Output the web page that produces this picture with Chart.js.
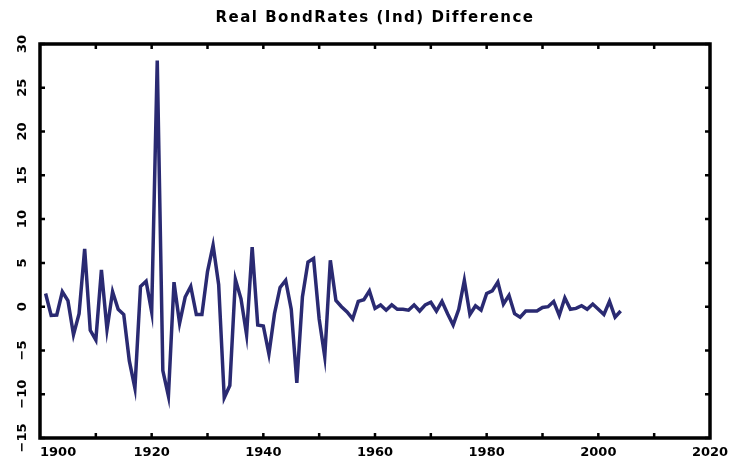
<!DOCTYPE html>
<html>
<head>
<meta charset="utf-8">
<title>Real BondRates (Ind) Difference</title>
<script src="https://cdn.jsdelivr.net/npm/chart.js@4.4.0/dist/chart.umd.min.js"></script>
<style>
  body { margin: 0; background: #fff; }
  #wrap { width: 734px; height: 463px; }
</style>
</head>
<body>
<div id="wrap"><canvas id="bondChart" width="734" height="463"></canvas></div>
<script>
// yearly values
const years = [
  1901, 1902, 1903, 1904, 1905, 1906, 1907, 1908, 1909, 1910,
  1911, 1912, 1913, 1914, 1915, 1916, 1917, 1918, 1919, 1920,
  1921, 1922, 1923, 1924, 1925, 1926, 1927, 1928, 1929, 1930,
  1931, 1932, 1933, 1934, 1935, 1936, 1937, 1938, 1939, 1940,
  1941, 1942, 1943, 1944, 1945, 1946, 1947, 1948, 1949, 1950,
  1951, 1952, 1953, 1954, 1955, 1956, 1957, 1958, 1959, 1960,
  1961, 1962, 1963, 1964, 1965, 1966, 1967, 1968, 1969, 1970,
  1971, 1972, 1973, 1974, 1975, 1976, 1977, 1978, 1979, 1980,
  1981, 1982, 1983, 1984, 1985, 1986, 1987, 1988, 1989, 1990,
  1991, 1992, 1993, 1994, 1995, 1996, 1997, 1998, 1999, 2000,
  2001, 2002, 2003, 2004
];
const rateDiff = [
  1.5, -1.0, -0.95, 1.7, 0.7, -3.2, -0.8, 6.6, -2.7, -3.8,
  4.2, -2.6, 1.7, -0.3, -0.9, -6.2, -9.3, 2.3, 2.9, -0.6,
  28.1, -7.3, -10.2, 2.8, -1.9, 1.1, 2.3, -0.9, -0.9, 4.0,
  7.0, 2.5, -10.4, -9.0, 3.1, 0.9, -3.2, 6.8, -2.1, -2.2,
  -5.4, -0.8, 2.2, 3.0, -0.3, -8.7, 1.1, 5.1, 5.5, -1.4,
  -5.7, 5.3, 0.7, 0.0, -0.6, -1.4, 0.6, 0.8, 1.8, -0.2,
  0.2, -0.4, 0.2, -0.3, -0.3, -0.4, 0.2, -0.5, 0.2, 0.5,
  -0.5, 0.6, -0.8, -2.1, -0.3, 3.0, -0.9, 0.1, -0.4, 1.5,
  1.8, 2.8, 0.3, 1.3, -0.8, -1.2, -0.5, -0.5, -0.5, -0.1,
  0.0, 0.6, -1.0, 1.0, -0.3, -0.2, 0.1, -0.3, 0.3, -0.3,
  -0.9, 0.6, -1.2, -0.5
];

const chartTitle = 'Real BondRates (Ind) Difference';
const xTickLabels = ['1900', '1920', '1940', '1960', '1980', '2000', '2020'];
const xMinorTicks = [1910, 1920, 1930, 1940, 1950, 1960, 1970, 1980, 1990, 2000, 2010];
const yTickLabels = ['\u221215', '\u221210', '\u22125', '0', '5', '10', '15', '20', '25', '30'];
const yTicks = [-15, -10, -5, 0, 5, 10, 15, 20, 25, 30];

const points = years.map((yr, i) => ({ x: yr, y: rateDiff[i] }));

// matlab-ish box frame, inward ticks, rotated y labels and the title
const boxAxes = {
  id: 'boxAxes',
  afterDraw(chart) {
    const ctx = chart.ctx;
    const a = chart.chartArea;
    const xs = chart.scales.x;
    const ys = chart.scales.y;
    ctx.save();
    ctx.strokeStyle = '#000';

    // ticks
    ctx.lineWidth = 2.5;
    ctx.beginPath();
    xMinorTicks.forEach(v => {
      const px = xs.getPixelForValue(v);
      ctx.moveTo(px, a.top); ctx.lineTo(px, a.top + 5);
      ctx.moveTo(px, a.bottom); ctx.lineTo(px, a.bottom - 5);
    });
    yTicks.forEach(v => {
      const py = ys.getPixelForValue(v);
      ctx.moveTo(a.left, py); ctx.lineTo(a.left + 5, py);
      ctx.moveTo(a.right, py); ctx.lineTo(a.right - 5, py);
    });
    ctx.stroke();

    // frame
    ctx.lineWidth = 3.5;
    ctx.strokeRect(a.left, a.top, a.right - a.left, a.bottom - a.top);

    ctx.fillStyle = '#000';
    ctx.textBaseline = 'middle';

    // title (wide letters like the original)
    ctx.font = 'bold 15px "DejaVu Sans"';
    ctx.letterSpacing = '1.5px';
    ctx.textAlign = 'center';
    ctx.fillText(chartTitle, (a.left + a.right) / 2, 18);
    ctx.letterSpacing = '0px';

    // x labels
    ctx.font = 'bold 13px "DejaVu Sans"';
    xTickLabels.forEach((lab, i) => {
      const px = xs.getPixelForValue(Number(lab));
      ctx.textAlign = i === 0 ? 'left' : 'center';
      ctx.fillText(lab, px, a.bottom + 15);
    });

    // y labels, rotated
    yTickLabels.forEach((lab, i) => {
      const py = ys.getPixelForValue(yTicks[i]);
      ctx.save();
      ctx.translate(23, py);
      ctx.rotate(-Math.PI / 2);
      ctx.textAlign = 'center';
      ctx.fillText(lab, 0, 0);
      ctx.restore();
    });
    ctx.restore();
  }
};

const ctx = document.getElementById('bondChart').getContext('2d');
new Chart(ctx, {
  type: 'line',
  data: {
    datasets: [{
      data: points,
      borderColor: '#2a2a72',
      borderWidth: 3.5,
      pointRadius: 0,
      tension: 0,
      fill: false
    }]
  },
  options: {
    responsive: false,
    animation: false,
    layout: {
      padding: { left: 40, right: 24, top: 44, bottom: 25 }
    },
    plugins: {
      legend: { display: false },
      tooltip: { enabled: false },
      title: { display: false }
    },
    scales: {
      x: { type: 'linear', min: 1900, max: 2020, display: false },
      y: { type: 'linear', min: -15, max: 30, display: false }
    }
  },
  plugins: [boxAxes]
});
</script>
</body>
</html>
